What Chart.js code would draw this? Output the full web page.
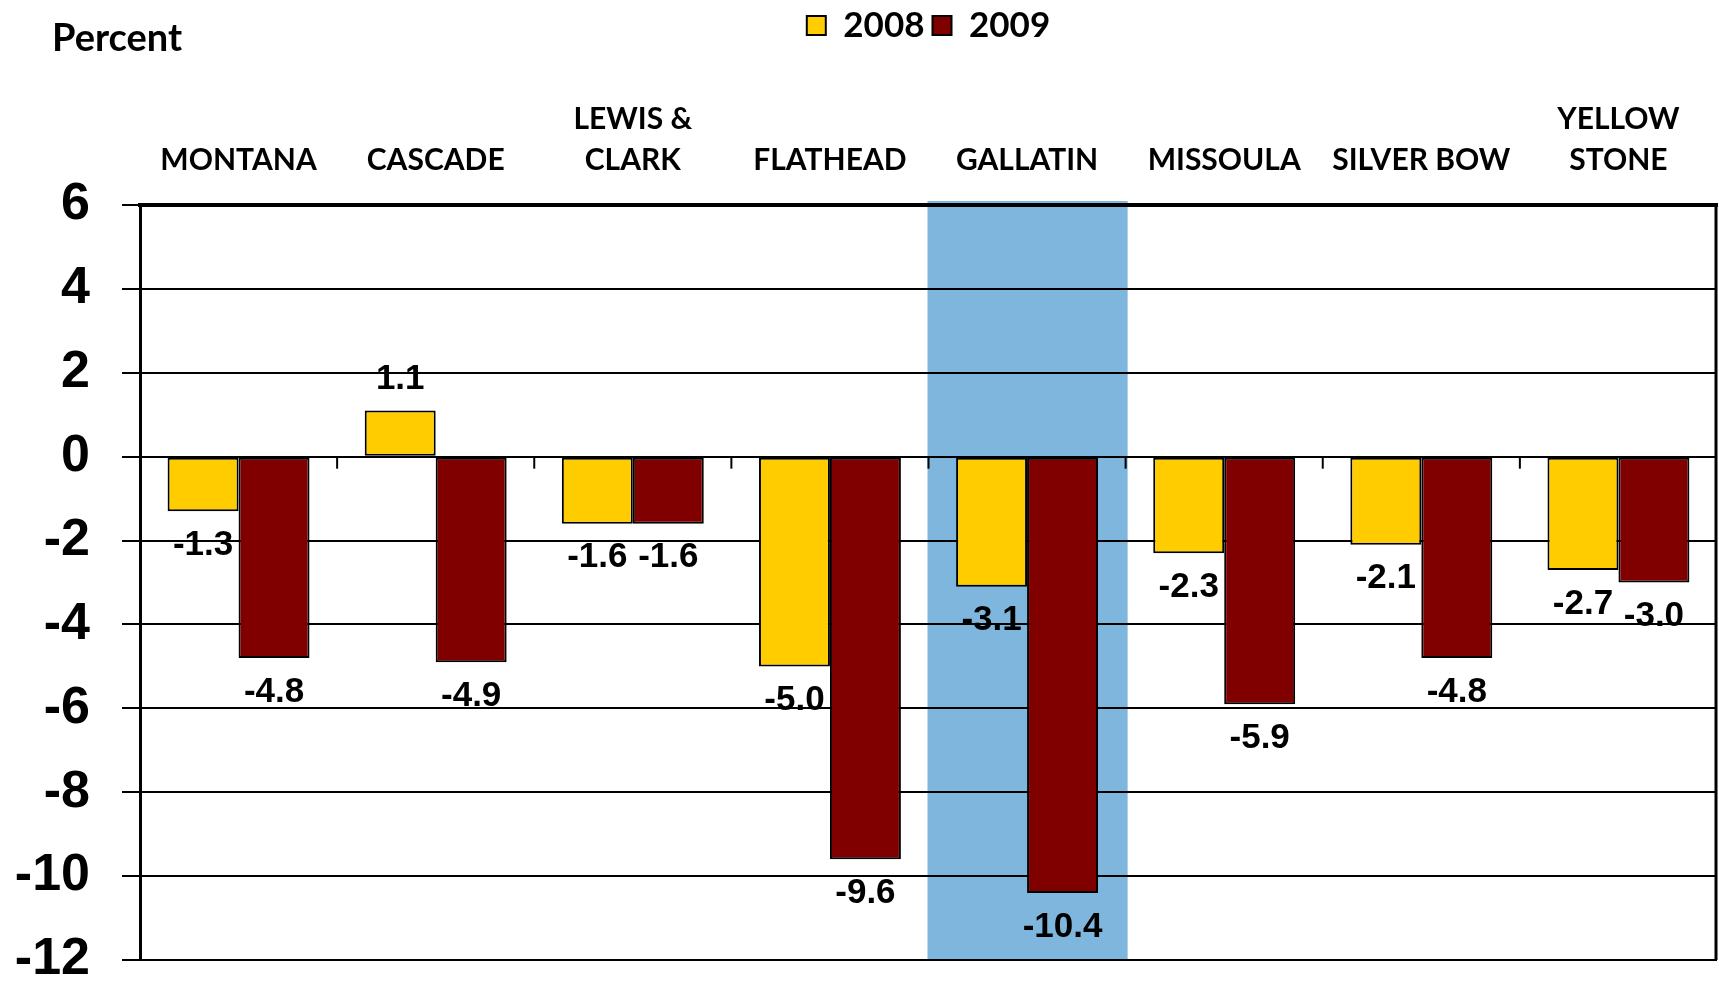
<!DOCTYPE html>
<html>
<head>
<meta charset="utf-8">
<script src="https://cdn.jsdelivr.net/npm/chart.js@4.4.1/dist/chart.umd.min.js"></script>
<style>
  html, body { margin: 0; padding: 0; background: #ffffff; }
  #wrap { width: 1719px; height: 982px; position: relative; }
</style>
</head>
<body>
<div id="wrap"><canvas id="c" width="1719" height="982"></canvas></div>
<script>
// ---- data ----
const categories = ["MONTANA", "CASCADE", ["LEWIS &", "CLARK"], "FLATHEAD", "GALLATIN", "MISSOULA", "SILVER BOW", ["YELLOW", "STONE"]];
const seriesNames = ["2008", "2009"];
const values2008 = [-1.3, 1.1, -1.6, -5.0, -3.1, -2.3, -2.1, -2.7];
const values2009 = [-4.8, -4.9, -1.6, -9.6, -10.4, -5.9, -4.8, -3.0];
const yTicks = [6, 4, 2, 0, -2, -4, -6, -8, -10, -12];
const highlightCategory = "GALLATIN";
const unitLabel = "Percent";

const LABEL_FONT = "Lato, 'Open Sans', sans-serif";
const NUM_FONT = "'Liberation Sans', Arial, sans-serif";

const highlightPlugin = {
  id: 'highlight',
  beforeDraw(chart) {
    const x = chart.scales.x, ca = chart.chartArea;
    const idx = categories.findIndex(c => c === highlightCategory);
    if (idx < 0) return;
    const center = x.getPixelForValue(idx);
    const half = (x.getPixelForValue(1) - x.getPixelForValue(0)) / 2;
    const ctx = chart.ctx;
    ctx.save();
    ctx.fillStyle = '#7FB6DD';
    ctx.fillRect(center - half - 1, ca.top - 4, half * 2 + 3, ca.bottom - ca.top + 4);
    ctx.restore();
  }
};

const framePlugin = {
  id: 'frame',
  afterDraw(chart) {
    const ctx = chart.ctx, ca = chart.chartArea, x = chart.scales.x, y = chart.scales.y;
    ctx.save();
    ctx.strokeStyle = '#000';
    ctx.lineWidth = 3;
    ctx.beginPath();
    ctx.moveTo(ca.right - 1, ca.top);
    ctx.lineTo(ca.right - 1, ca.bottom);
    ctx.stroke();
    const y0 = y.getPixelForValue(0);
    const step = x.getPixelForValue(1) - x.getPixelForValue(0);
    ctx.lineWidth = 2;
    for (let i = 1; i < categories.length; i++) {
      const bx = x.getPixelForValue(i) - step / 2;
      ctx.beginPath();
      ctx.moveTo(bx, y0);
      ctx.lineTo(bx, y0 + 12);
      ctx.stroke();
    }
    ctx.fillStyle = '#000';
    ctx.font = "bold 38px " + LABEL_FONT;
    ctx.textAlign = 'left';
    ctx.textBaseline = 'middle';
    ctx.fillText(unitLabel, 52, 39);
    ctx.restore();
  }
};

const valueLabelPlugin = {
  id: 'valueLabels',
  afterDatasetsDraw(chart) {
    const ctx = chart.ctx;
    ctx.save();
    ctx.fillStyle = '#000';
    ctx.font = "bold 35px " + NUM_FONT;
    ctx.textAlign = 'center';
    ctx.textBaseline = 'middle';
    chart.data.datasets.forEach((ds, di) => {
      const meta = chart.getDatasetMeta(di);
      meta.data.forEach((el, i) => {
        const v = ds.data[i];
        const ty = v < 0 ? el.y + 34 : el.y - 31;
        ctx.fillText(v.toFixed(1), el.x, ty);
      });
    });
    ctx.restore();
  }
};

new Chart(document.getElementById('c'), {
  type: 'bar',
  data: {
    labels: categories,
    datasets: [
      { label: seriesNames[0], data: values2008, backgroundColor: '#FFCC00', borderColor: '#000', borderWidth: 2, borderSkipped: false },
      { label: seriesNames[1], data: values2009, backgroundColor: '#800000', borderColor: '#000', borderWidth: 2, borderSkipped: false }
    ]
  },
  options: {
    responsive: false,
    animation: false,
    devicePixelRatio: 1,
    layout: { padding: { left: 0, right: 2, top: 0, bottom: 22 } },
    datasets: { bar: { categoryPercentage: 0.72, barPercentage: 1.0 } },
    plugins: {
      legend: {
        position: 'top',
        fullSize: false,
        labels: {
          color: '#000',
          font: { family: LABEL_FONT, size: 35, weight: 'bold' },
          boxWidth: 19, boxHeight: 19, padding: 8
        }
      },
      tooltip: { enabled: false },
      title: { display: false }
    },
    scales: {
      x: {
        position: 'top',
        grid: { display: false, drawTicks: false },
        border: { display: true, color: '#000', width: 4 },
        ticks: {
          color: '#000',
          font: { family: LABEL_FONT, size: 30, weight: 'bold', lineHeight: 1.38 },
          padding: 24,
          maxRotation: 0, minRotation: 0, autoSkip: false
        },
        afterFit(s) { s.height = 152; s.paddingLeft = 0; s.paddingRight = 0; }
      },
      y: {
        min: yTicks[yTicks.length - 1],
        max: yTicks[0],
        afterBuildTicks(s) { s.ticks = yTicks.map(v => ({ value: v })); },
        grid: { color: '#000', lineWidth: 2, tickLength: 18, tickColor: '#000', tickWidth: 2 },
        border: { display: true, color: '#000', width: 3 },
        ticks: {
          color: '#000',
          font: { family: NUM_FONT, size: 52, weight: 'bold' },
          padding: 32,
          callback: v => String(v)
        },
        afterFit(s) { s.width = 140; s.paddingTop = 0; s.paddingBottom = 0; }
      }
    }
  },
  plugins: [highlightPlugin, framePlugin, valueLabelPlugin]
});
</script>
</body>
</html>
